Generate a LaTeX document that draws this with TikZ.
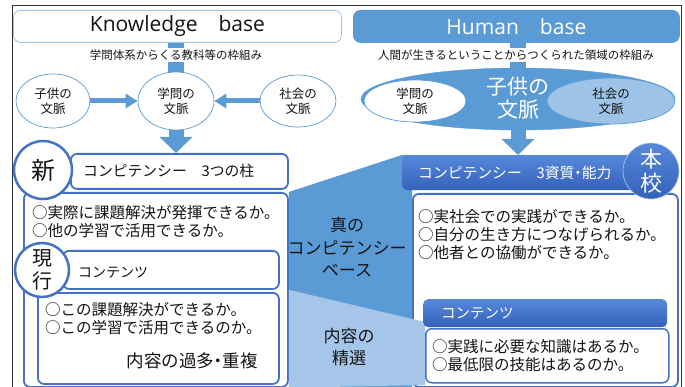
\documentclass[tikz,border=0pt]{standalone}
\usepackage{fontspec}
\setmainfont{Noto Sans CJK JP}
\newfontfamily\hdrfont{Open Sans}
\usetikzlibrary{shapes.geometric,arrows.meta}
\pgfdeclarelayer{bg}
\pgfsetlayers{bg,main}
\definecolor{kblue}{RGB}{68,114,196}
\definecolor{mblue}{RGB}{91,155,213}
\definecolor{lblue}{RGB}{157,195,230}
\definecolor{pblue}{RGB}{166,198,233}
\definecolor{gtop}{RGB}{86,136,218}
\definecolor{gbot}{RGB}{52,98,186}
\definecolor{txt}{RGB}{20,20,20}
\newcommand\fs[2]{\fontsize{#1}{#2}\selectfont}
\newcommand\nakaguro{\makebox[0.5em]{・}}
\begin{document}
\begin{tikzpicture}[x=1pt,y=-1pt,
  box/.style={draw=kblue, line width=1.8pt, fill=white, rounded corners=6pt, anchor=north west, inner sep=0pt},
  gbox/.style={draw=none, top color=gtop, bottom color=gbot, rounded corners=5pt, anchor=north west, inner sep=0pt},
  hdr/.style={rounded corners=7pt, anchor=north west, inner sep=0pt, font=\hdrfont\fs{21}{24}},
  captext/.style={fill=white, inner xsep=3pt, inner ysep=2pt, text=txt, font=\fs{11.5}{14}},
  ctx/.style={ellipse, draw=mblue, line width=0.7pt, fill=white, inner sep=0pt, align=center, font=\fs{12.5}{15}, text=txt},
  ring/.style={circle, draw=kblue, line width=2.5pt, fill=white, inner sep=0pt, align=center, text=txt},
  sidearrow/.style={draw=mblue, line width=5pt, -{Triangle[length=12pt,width=14pt]}},
  downarrow/.style={draw=mblue, line width=15pt, -{Triangle[length=16pt,width=32pt]}},
  stem/.style={draw=mblue, line width=16pt},
  body/.style={anchor=west, align=left, inner sep=0pt, text=txt, font=\fs{15.5}{18}},
  lbl/.style={anchor=west, inner sep=0pt, font=\fs{14.8}{17}},
  mid/.style={align=center, inner sep=0pt, text=txt, font=\fs{17}{22.5}},
  frameline/.style={draw=black!80, line width=0.8pt}
]
\useasboundingbox (0,0) rectangle (685,387);
\draw[frameline] (12,387) -- (12,5) -- (681,5) -- (681,387);

% headers
\node[hdr, draw=lblue, line width=0.8pt, fill=white, text=txt, minimum width=328pt, minimum height=32pt] (kb) at (13,10) {Knowledge\quad base};
\node[hdr, draw=mblue, line width=0.8pt, fill=mblue, text=white, minimum width=326pt, minimum height=32pt] (hb) at (353,10) {Human\quad base};

% left context ellipses
\node[ctx, minimum width=74pt, minimum height=54pt] (kodomo) at (53,101) {子供の\\文脈};
\node[ctx, minimum width=76pt, minimum height=58pt] (gak) at (176,101) {学問の\\文脈};
\node[ctx, minimum width=76pt, minimum height=52pt] (shakai) at (298,101) {社会の\\文脈};
\draw[sidearrow] (kodomo.east) -- (gak.west);
\draw[sidearrow] (shakai.west) -- (gak.east);

% right context ellipses
\node[ellipse, draw=mblue, fill=mblue, inner sep=0pt, minimum width=314pt, minimum height=62pt] (hbell) at (518,99) {};
\node[ctx, minimum width=102pt, minimum height=42pt] (gakR) at (415,101) {学問の\\文脈};
\node[ctx, fill=lblue, minimum width=128pt, minimum height=46pt] (shakaiR) at (611,101) {社会の\\文脈};
\node[align=center, inner sep=0pt, text=white, font=\fs{21}{23}] (kodomoR) at (518,98) {子供の\\文脈};

% captions (cover the stems)
\node[captext] (capL) at (176,55) {学問体系からくる教科等の枠組み};
\node[captext] (capR) at (516,55) {人間が生きるということからつくられた領域の枠組み};

% left boxes
\node[box, minimum width=264pt, minimum height=194pt] (bigL) at (23,192) {};
\node[box, minimum width=217pt, minimum height=35pt] (kon3) at (70,153) {};
\node[box, minimum width=216pt, minimum height=38pt] (cntL) at (62,250) {};
\node[box, minimum width=241pt, minimum height=91pt] (cntLb) at (37,292) {};
\draw[downarrow] (gak.south) -- (gak.south |- kon3.north);

% right boxes
\node[box, minimum width=265pt, minimum height=193pt] (bigR) at (412,193) {};
\node[gbox, minimum width=248pt, minimum height=35pt] (kon3r) at (402,155) {};
\draw[downarrow] (hbell.south) -- (hbell.south |- kon3r.north);

% light band
\fill[pblue] (bigL.east |- cntL.south) -- (425,322) -- (425,385) -- (bigL.south east) -- cycle;

\node[gbox, minimum width=244pt, minimum height=28pt] (cntRh) at (423,299) {};
\node[box, line width=1.5pt, minimum width=243pt, minimum height=54pt] (cntRb) at (425,328) {};

% background: stems and dark band
\begin{pgfonlayer}{bg}
\draw[stem] (gak.center |- kb.south) -- (gak.center);
\draw[stem] (hbell.center |- hb.south) -- (hbell.center);
\fill[mblue] (bigL.north east) -- (kon3r.north west) -- (bigR.west |- kon3r.north) -- (bigR.south west) -- (bigL.south east) -- cycle;
\end{pgfonlayer}

% circles
\node[ring, minimum size=58pt, font=\fs{24}{26}] (shin) at (43,170) {新};
\node[ring, minimum size=54pt, font=\fs{20}{23}] (genko) at (42,270) {現\\行};
\node[circle, draw=white!60!kblue, line width=0.6pt, top color=gtop, bottom color=gbot, inner sep=0pt, minimum size=56pt, align=center, text=white, font=\fs{22}{24}] (honko) at (651,171) {本\\校};

% texts
\node[lbl, text=txt] (t1) at (83,171) {コンピテンシー　3つの柱};
\node[body] (t2) at (32,222) {○実際に課題解決が発揮できるか。\\○他の学習で活用できるか。};
\node[lbl, text=txt, font=\fs{14}{17}] (t3) at (78,273) {コンテンツ};
\node[body] (t4) at (45,319) {○この課題解決ができるか。\\○この学習で活用できるのか。};
\node[anchor=east, inner sep=0pt, text=txt, font=\fs{17.5}{20}] (t5) at (258,361) {内容の過多\nakaguro 重複};
\node[lbl, text=white] (t6) at (418,173) {コンピテンシー　3資質\nakaguro 能力};
\node[body] (t7) at (418,234.5) {○実社会での実践ができるか。\\○自分の生き方につなげられるか。\\○他者との協働ができるか。};
\node[lbl, text=white, font=\fs{14.5}{17}] (t8) at (441,313) {コンテンツ};
\node[body] (t9) at (432,356) {○実践に必要な知識はあるか。\\○最低限の技能はあるのか。};
\node[mid] (m1) at (347,247.5) {真の\\コンピテンシー\\ベース};
\node[mid] (m2) at (349,347) {内容の\\精選};
\end{tikzpicture}
\end{document}
